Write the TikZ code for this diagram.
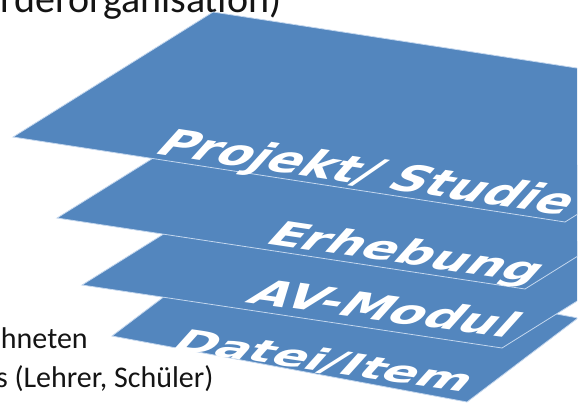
\documentclass[tikz,border=0pt]{standalone}
\usepackage{fontspec}
\setmainfont{Carlito}
\newfontfamily\labfont{DejaVu Sans}
\definecolor{planeblue}{RGB}{83,134,190}
\definecolor{edgeblue}{RGB}{196,215,238}
\definecolor{inkgray}{RGB}{20,20,20}
\newcommand\labstyle{\labfont\bfseries\fontsize{20}{24}\selectfont}
\newlength\labw
\newsavebox\labbox
\tikzset{
  plane/.style={fill=planeblue, draw=edgeblue, line width=0.8pt, line join=miter},
  planetext/.style={anchor=base west, inner sep=0pt, outer sep=0pt, text=white, font=\labstyle},
  slidetext/.style={anchor=base west, inner sep=0pt, outer sep=0pt, text=inkgray},
}
% name, x1, y1, x2, y2 (baseline start and end, image px), up scale, text
\newcommand\planelabel[7]{%
  \pgfinterruptpicture
    \global\sbox\labbox{\labstyle #7}%
  \endpgfinterruptpicture
  \setlength\labw{\wd\labbox}%
  \pgfmathsetmacro\labA{(#4-#2)/\labw}%
  \pgfmathsetmacro\labB{-(#5-#3)/\labw}%
  \pgfmathsetmacro\labC{0.9*#6}%
  \begin{scope}[shift={(#2,#3)}]
    \node[planetext, cm={\labA,\labB,\labC,#6,(0,0)}] (#1) at (0,0) {#7};
  \end{scope}}
\begin{document}
\begin{tikzpicture}[x=1pt, y=-1pt]
  \clip (0,0) rectangle (581,402);
  \useasboundingbox (0,0) rectangle (581,402);
  % cut-off slide texts
  \node[slidetext, font=\fontsize{40}{48}\selectfont] (title) at (1,12) {rderorganisation)};
  \node[slidetext, font=\fontsize{30}{36}\selectfont] (line1) at (1,348) {hneten};
  \node[slidetext, font=\fontsize{30}{36}\selectfont] (line2) at (-4,387) {s (Lehrer, Schüler)};
  % stacked planes
  \begin{scope}
    \clip (0,0) rectangle (577,402);
    \path[plane] (112,336) -- (223,252) -- (578,318) -- (467,402) -- cycle;
    \path[plane] (82,285) -- (234,190) -- (654,253) -- (502,348) -- cycle;
    \path[plane] (57,218) -- (227,112) -- (695,183) -- (525,289) -- cycle;
    \path[plane] (13,137) -- (213,12) -- (765,97) -- (565,222) -- cycle;
  \end{scope}
  % labels lying on the planes
  \planelabel{projekt}{152}{153}{562}{215}{1.7}{Projekt/ Studie}
  \planelabel{erhebung}{263}{243}{532}{283}{1.55}{Erhebung}
  \planelabel{avmodul}{244}{302}{506}{338}{1.6}{AV-Modul}
  \planelabel{datei}{169}{349}{463}{392}{1.4}{Datei/Item}
\end{tikzpicture}
\end{document}
